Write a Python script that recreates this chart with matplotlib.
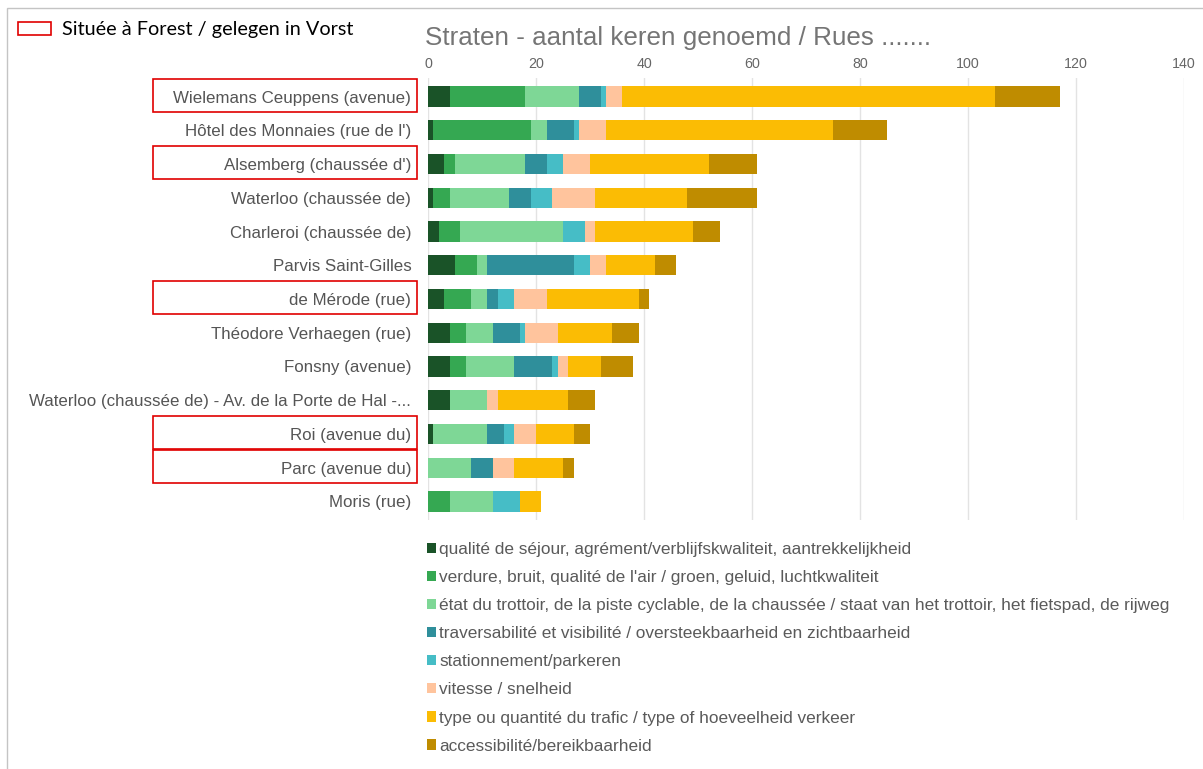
import matplotlib.pyplot as plt
import numpy as np
from matplotlib.patches import Patch, Rectangle
from matplotlib.transforms import blended_transform_factory

W, H = 1203, 769

streets = [
    "Wielemans Ceuppens (avenue)",
    "Hôtel des Monnaies (rue de l')",
    "Alsemberg (chaussée d')",
    "Waterloo (chaussée de)",
    "Charleroi (chaussée de)",
    "Parvis Saint-Gilles",
    "de Mérode (rue)",
    "Théodore Verhaegen (rue)",
    "Fonsny (avenue)",
    "Waterloo (chaussée de) - Av. de la Porte de Hal -...",
    "Roi (avenue du)",
    "Parc (avenue du)",
    "Moris (rue)",
]
in_forest = [True, False, True, False, False, False, True, False, False, False, True, True, False]

sejour = [4, 1, 3, 1, 2, 5, 3, 4, 4, 4, 1, 0, 0]
verdure = [14, 18, 2, 3, 4, 4, 5, 3, 3, 0, 0, 0, 4]
trottoir = [10, 3, 13, 11, 19, 2, 3, 5, 9, 7, 10, 8, 8]
traversabilite = [4, 5, 4, 4, 0, 16, 2, 5, 7, 0, 3, 4, 0]
stationnement = [1, 1, 3, 4, 4, 3, 3, 1, 1, 0, 2, 0, 5]
vitesse = [3, 5, 5, 8, 2, 3, 6, 6, 2, 2, 4, 4, 0]
trafic = [69, 42, 22, 17, 18, 9, 17, 10, 6, 13, 7, 9, 4]
accessibilite = [12, 10, 9, 13, 5, 4, 2, 5, 6, 5, 3, 2, 0]

categories = [
    "qualité de séjour, agrément/verblijfskwaliteit, aantrekkelijkheid",
    "verdure, bruit, qualité de l'air / groen, geluid, luchtkwaliteit",
    "état du trottoir, de la piste cyclable, de la chaussée / staat van het trottoir, het fietspad, de rijweg",
    "traversabilité et visibilité / oversteekbaarheid en zichtbaarheid",
    "stationnement/parkeren",
    "vitesse / snelheid",
    "type ou quantité du trafic / type of hoeveelheid verkeer",
    "accessibilité/bereikbaarheid",
]
colors = ["#1a5328", "#35a852", "#7ed796", "#2f8f9b", "#46bdc6", "#ffc49d", "#fbbc04", "#bf8c00"]
series = [sejour, verdure, trottoir, traversabilite, stationnement, vitesse, trafic, accessibilite]

plt.rcParams["font.family"] = ["Liberation Sans", "DejaVu Sans"]

fig = plt.figure(figsize=(W / 100, H / 100), dpi=100)
ax = fig.add_axes([428 / W, 1 - 520 / H, (1184 - 428) / W, (520 - 78) / H])

y = np.arange(len(streets))
left = np.zeros(len(streets))
for vals, col in zip(series, colors):
    ax.barh(y, vals, left=left, height=0.6, color=col, linewidth=0, zorder=2)
    left += np.array(vals)

ax.set_xlim(0, 140)
ax.set_ylim(len(streets) - 0.45, -0.55)
ax.set_xticks(np.arange(0, 141, 20))
ax.xaxis.tick_top()
ax.grid(axis="x", color="#e3e3e3", linewidth=1, zorder=0)
ax.tick_params(axis="x", length=0, pad=5, labelsize=10.3, labelcolor="#666666")
ax.set_yticks(y)
ax.set_yticklabels(streets)
ax.tick_params(axis="y", length=0, pad=12, labelsize=12.2, labelcolor="#555555")
for s in ax.spines.values():
    s.set_visible(False)

# red frames around streets located in Forest
trans = blended_transform_factory(fig.transFigure, ax.transData)
for i, flag in enumerate(in_forest):
    if flag:
        ax.add_patch(Rectangle((153 / W, i - 0.52), (417 - 153) / W, 0.97, transform=trans,
                               fill=False, edgecolor="#e00000", linewidth=1.2, clip_on=False))

fig.text(425 / W, 1 - 38 / H, "Straten - aantal keren genoemd / Rues .......",
         fontsize=18.7, color="#757575", va="center", ha="left")

# top-left key
fig.add_artist(Rectangle((18 / W, 1 - 35 / H), 33 / W, 13 / H, transform=fig.transFigure,
                         fill=False, edgecolor="#e00000", linewidth=1.2))
fig.text(62 / W, 1 - 30 / H, "Située à Forest / gelegen in Vorst", fontsize=14.3,
         family=["Lato", "DejaVu Sans"], color="black", va="center")

# frame lines
fig.add_artist(Rectangle((7 / W, -0.05), 1.1, 1 - 8 / H + 0.05, transform=fig.transFigure,
                         fill=False, edgecolor="#c4c4c4", linewidth=1))

handles = [Patch(facecolor=c, edgecolor="none") for c in colors]
fig.legend(handles, categories, loc="upper left", bbox_to_anchor=(427 / W, 1 - 542 / H),
           frameon=False, fontsize=12.4, labelcolor="#5a5a5a", handlelength=0.53,
           handleheight=0.53, handletextpad=0.18, labelspacing=0.76, borderpad=0,
           borderaxespad=0)

fig.savefig("out.png", dpi=100)
